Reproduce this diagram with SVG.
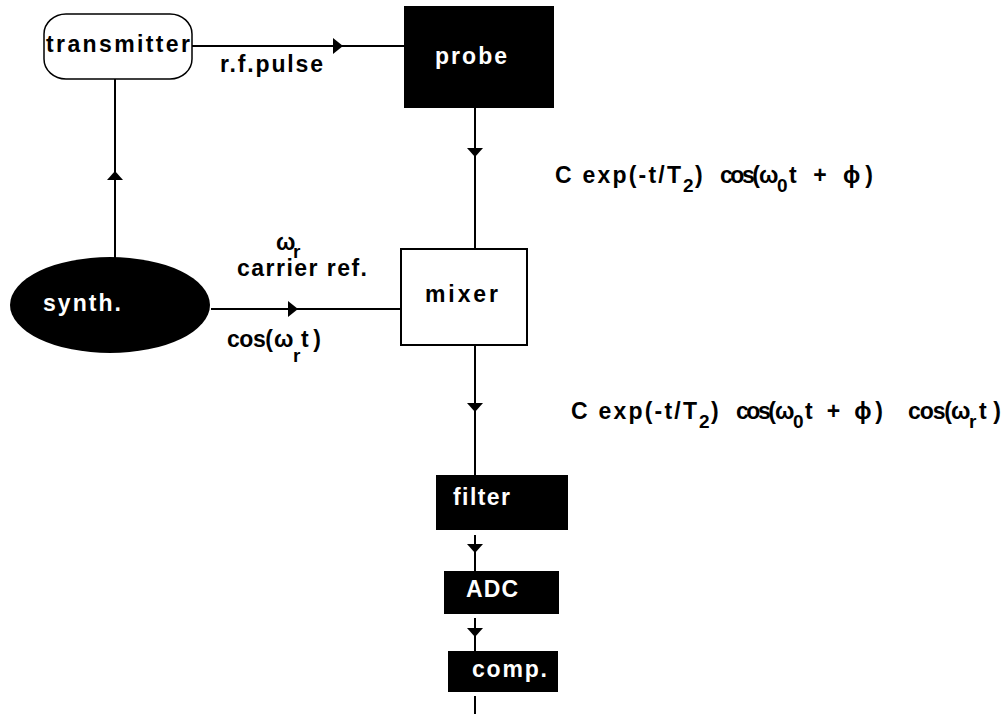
<svg xmlns="http://www.w3.org/2000/svg" width="1006" height="714" viewBox="0 0 1006 714">
<style>
text{font-family:"Liberation Sans",Arial,sans-serif;font-weight:bold;font-size:23px;fill:#000}
.w{fill:#fff}
.sub{font-size:19px}
.ln{stroke:#000;stroke-width:2;fill:none}
.ah{fill:#000;stroke:none}
</style>
<rect width="1006" height="714" fill="#fff"/>
<g id="connectors">
<line class="ln" x1="192" y1="46" x2="404" y2="46"/>
<polygon class="ah" points="333,38 343,46 333,54"/>
<line class="ln" x1="115" y1="79" x2="115" y2="258"/>
<polygon class="ah" points="107,180 115,171 123,180"/>
<line class="ln" x1="475" y1="108" x2="475" y2="249"/>
<polygon class="ah" points="467,148 475,157 483,148"/>
<line class="ln" x1="211" y1="309" x2="401" y2="309"/>
<polygon class="ah" points="288,301 298,309 288,317"/>
<line class="ln" x1="475" y1="345" x2="475" y2="475"/>
<polygon class="ah" points="467,403 475,412 483,403"/>
<line class="ln" x1="475" y1="535" x2="475" y2="571"/>
<polygon class="ah" points="467,544 475,553 483,544"/>
<line class="ln" x1="475" y1="618" x2="475" y2="651"/>
<polygon class="ah" points="467,628 475,637 483,628"/>
<line class="ln" x1="475" y1="696" x2="475" y2="714"/>
<text x="276" y="250">ω</text>
<text x="293" y="258" class="sub">r</text>
<text x="220" y="72" textLength="103">r.f.pulse</text>
<text x="237" y="276" textLength="130">carrier ref.</text>
<text x="227" y="347" textLength="46">cos(</text>
<text x="274" y="347">ω</text>
<text x="293" y="362" class="sub">r</text>
<text x="301" y="347" textLength="20">t)</text>
<text x="555" y="183" textLength="126">C exp(-t/T</text>
<text x="683" y="192" class="sub">2</text>
<text x="695" y="183">)</text>
<text x="720" y="183" textLength="40">cos(</text>
<text x="759" y="183">ω</text>
<text x="777" y="192" class="sub">0</text>
<text x="789" y="183" textLength="84">t + ϕ)</text>
<text x="571" y="419" textLength="126">C exp(-t/T</text>
<text x="699" y="428" class="sub">2</text>
<text x="711" y="419">)</text>
<text x="736" y="419" textLength="40">cos(</text>
<text x="775" y="419">ω</text>
<text x="793" y="428" class="sub">0</text>
<text x="805" y="419" textLength="78">t + ϕ)</text>
<text x="908" y="419" textLength="44">cos(</text>
<text x="951" y="419">ω</text>
<text x="969" y="428" class="sub">r</text>
<text x="979" y="419" textLength="22">t)</text>
</g>
<g id="transmitter">
<rect x="44" y="14" width="148" height="65" rx="22" ry="20" fill="#fff" stroke="#000" stroke-width="1.5"/>
<text x="46" y="52" textLength="144">transmitter</text>
</g>
<g id="probe">
<rect x="404" y="6" width="150" height="102" fill="#000"/>
<text x="435" y="64" class="w" textLength="72">probe</text>
</g>
<g id="synth">
<ellipse cx="110" cy="305" rx="100" ry="48" fill="#000"/>
<text x="43" y="311" class="w" textLength="78">synth.</text>
</g>
<g id="mixer">
<rect x="401" y="249" width="126" height="96" fill="#fff" stroke="#000" stroke-width="2"/>
<text x="425" y="302" textLength="73">mixer</text>
</g>
<g id="filter">
<rect x="436" y="475" width="132" height="55" fill="#000"/>
<text x="453" y="505" class="w" textLength="57">filter</text>
</g>
<g id="adc">
<rect x="444" y="571" width="115" height="43" fill="#000"/>
<text x="466" y="597" class="w" textLength="52">ADC</text>
</g>
<g id="comp">
<rect x="448" y="651" width="110" height="41" fill="#000"/>
<text x="472" y="677" class="w" textLength="75">comp.</text>
</g>
</svg>
